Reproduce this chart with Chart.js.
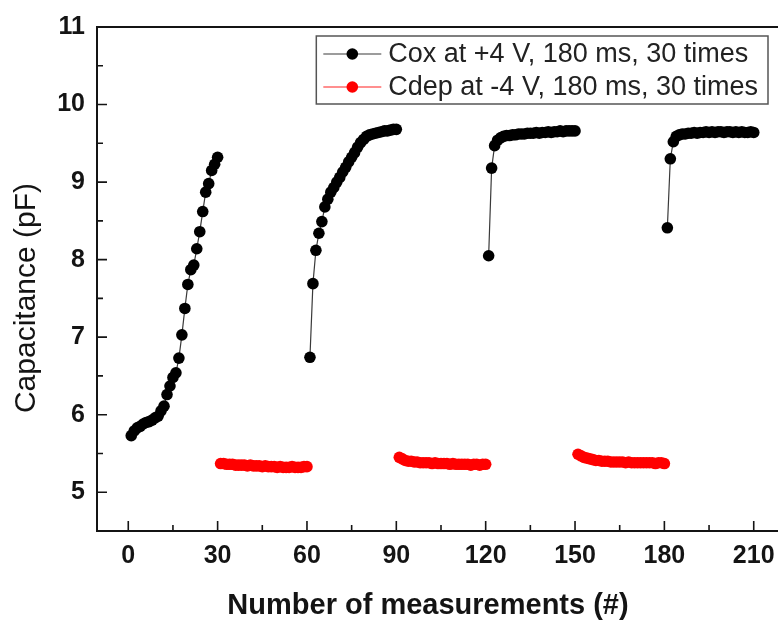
<!DOCTYPE html>
<html>
<head>
<meta charset="utf-8">
<title>Capacitance vs number of measurements</title>
<script src="https://cdn.jsdelivr.net/npm/chart.js@4.4.1/dist/chart.umd.min.js"></script>
<style>
  html, body { margin: 0; padding: 0; background: #fff; overflow: hidden; }
</style>
</head>
<body>
<canvas id="cap-chart" width="800" height="624"></canvas>
<script>
// measurement index where each run starts
const coxStarts = [1, 61, 121, 181];
const cdepStarts = [31, 91, 151];

// Cox at +4 V (pF), 30 readings per run
const coxRun1 = [5.73, 5.79, 5.83, 5.85, 5.88, 5.90, 5.91, 5.93, 5.96, 5.98,
                 6.05, 6.11, 6.26, 6.37, 6.48, 6.54, 6.73, 7.03, 7.37, 7.68,
                 7.87, 7.93, 8.14, 8.36, 8.62, 8.87, 8.98, 9.15, 9.23, 9.32];
const coxRun2 = [6.74, 7.69, 8.12, 8.34, 8.49, 8.68, 8.78, 8.87, 8.93, 9.00,
                 9.06, 9.13, 9.19, 9.26, 9.32, 9.38, 9.45, 9.51, 9.55, 9.59,
                 9.61, 9.62, 9.63, 9.64, 9.65, 9.66, 9.66, 9.67, 9.68, 9.68];
const coxRun3 = [8.05, 9.18, 9.47, 9.54, 9.57, 9.59, 9.60, 9.60, 9.61, 9.61,
                 9.62, 9.62, 9.62, 9.63, 9.63, 9.63, 9.64, 9.63, 9.64, 9.64,
                 9.65, 9.64, 9.65, 9.65, 9.66, 9.65, 9.66, 9.66, 9.66, 9.66];
const coxRun4 = [8.41, 9.30, 9.52, 9.59, 9.61, 9.62, 9.62, 9.63, 9.63, 9.64,
                 9.63, 9.64, 9.64, 9.65, 9.64, 9.65, 9.64, 9.65, 9.65, 9.64,
                 9.65, 9.65, 9.64, 9.65, 9.64, 9.65, 9.64, 9.64, 9.65, 9.64];

// Cdep at -4 V (pF)
const cdepRun1 = [5.37, 5.37, 5.36, 5.36, 5.36, 5.35, 5.35, 5.35, 5.35, 5.34,
                  5.35, 5.34, 5.34, 5.34, 5.33, 5.34, 5.33, 5.33, 5.33, 5.32,
                  5.33, 5.32, 5.32, 5.32, 5.33, 5.32, 5.32, 5.32, 5.33, 5.33];
const cdepRun2 = [5.45, 5.43, 5.41, 5.40, 5.40, 5.39, 5.39, 5.38, 5.38, 5.38,
                  5.38, 5.37, 5.38, 5.37, 5.37, 5.37, 5.37, 5.36, 5.37, 5.36,
                  5.36, 5.36, 5.36, 5.36, 5.35, 5.36, 5.36, 5.35, 5.36, 5.36];
const cdepRun3 = [5.49, 5.47, 5.45, 5.44, 5.43, 5.42, 5.41, 5.41, 5.40, 5.40,
                  5.40, 5.39, 5.39, 5.39, 5.39, 5.39, 5.38, 5.39, 5.38, 5.38,
                  5.38, 5.38, 5.38, 5.38, 5.38, 5.38, 5.37, 5.38, 5.38, 5.37];

const xTicks = [0, 30, 60, 90, 120, 150, 180, 210];
const yTicks = [5, 6, 7, 8, 9, 10, 11];

const FONT = '"Liberation Sans", Arial, Helvetica, sans-serif';
const INK = '#141414';

// join the runs into one series, with a null between runs so the line breaks
function joinRuns(starts, runs) {
  const pts = [];
  runs.forEach((run, r) => {
    if (r > 0) pts.push({ x: starts[r] - 0.5, y: null });
    run.forEach((v, i) => pts.push({ x: starts[r] + i, y: v }));
  });
  return pts;
}

function midpoints(vals) {
  const out = [];
  for (let i = 1; i < vals.length; i++) out.push((vals[i - 1] + vals[i]) / 2);
  return out;
}

// box, inward ticks, axis titles and the legend box
const frameAndTicks = {
  id: 'frameAndTicks',
  afterDraw(chart) {
    const { ctx, chartArea: a, scales: { x, y } } = chart;
    ctx.save();

    ctx.strokeStyle = INK;
    ctx.lineWidth = 2;
    ctx.strokeRect(a.left, a.top, a.right - a.left, a.bottom - a.top);

    ctx.lineWidth = 1.6;
    ctx.beginPath();
    xTicks.forEach(v => {
      const px = x.getPixelForValue(v);
      ctx.moveTo(px, a.bottom); ctx.lineTo(px, a.bottom - 10);
    });
    midpoints(xTicks).forEach(v => {
      const px = x.getPixelForValue(v);
      ctx.moveTo(px, a.bottom); ctx.lineTo(px, a.bottom - 6);
    });
    yTicks.forEach(v => {
      const py = y.getPixelForValue(v);
      ctx.moveTo(a.left, py); ctx.lineTo(a.left + 10, py);
    });
    midpoints([4].concat(yTicks)).forEach(v => {
      if (v < y.min) return;
      const py = y.getPixelForValue(v);
      ctx.moveTo(a.left, py); ctx.lineTo(a.left + 6, py);
    });
    ctx.stroke();

    // axis titles
    ctx.fillStyle = INK;
    ctx.textAlign = 'center';
    ctx.textBaseline = 'middle';
    ctx.font = 'bold 29px ' + FONT;
    ctx.fillText('Number of measurements (#)', (a.left + a.right) / 2 - 13, 606);

    ctx.save();
    ctx.translate(27, (a.top + a.bottom) / 2 + 19);
    ctx.rotate(-Math.PI / 2);
    ctx.font = '30px ' + FONT;
    ctx.fillText('Capacitance (pF)', 0, 0);
    ctx.restore();

    // legend
    const sets = chart.data.datasets;
    ctx.font = '27px ' + FONT;
    const textW = Math.max(...sets.map(d => ctx.measureText(d.label).width));
    const rowH = 33, sample = 58;
    const boxR = a.right - 17, boxT = a.top + 9;
    const boxW = 7 + sample + 7 + textW + 10;
    const boxL = boxR - boxW;
    const boxH = rowH * sets.length + 2;
    ctx.fillStyle = '#fff';
    ctx.fillRect(boxL, boxT, boxW, boxH);
    ctx.strokeStyle = '#555';
    ctx.lineWidth = 1.5;
    ctx.strokeRect(boxL, boxT, boxW, boxH);

    ctx.textAlign = 'left';
    sets.forEach((d, i) => {
      const cy = boxT + 18 + i * rowH;
      const x0 = boxL + 7;
      ctx.strokeStyle = d.borderColor;
      ctx.lineWidth = 1.2;
      ctx.beginPath();
      ctx.moveTo(x0, cy); ctx.lineTo(x0 + sample, cy);
      ctx.stroke();
      ctx.fillStyle = d.pointBackgroundColor;
      ctx.beginPath();
      ctx.arc(x0 + sample / 2, cy, 5.8, 0, Math.PI * 2);
      ctx.fill();
      ctx.fillStyle = '#222';
      ctx.fillText(d.label, x0 + sample + 7, cy + 1);
    });

    ctx.restore();
  }
};

new Chart(document.getElementById('cap-chart'), {
  type: 'line',
  data: {
    datasets: [
      {
        label: 'Cox at +4 V, 180 ms, 30 times',
        data: joinRuns(coxStarts, [coxRun1, coxRun2, coxRun3, coxRun4]),
        borderColor: '#3a3a3a',
        borderWidth: 1.2,
        pointBackgroundColor: '#000',
        pointBorderColor: '#000',
        pointRadius: 5.8,
        pointBorderWidth: 0,
        spanGaps: false
      },
      {
        label: 'Cdep at -4 V, 180 ms, 30 times',
        data: joinRuns(cdepStarts, [cdepRun1, cdepRun2, cdepRun3]),
        borderColor: '#ff2020',
        borderWidth: 1.2,
        pointBackgroundColor: '#ff0000',
        pointBorderColor: '#ff0000',
        pointRadius: 5.8,
        pointBorderWidth: 0,
        spanGaps: false
      }
    ]
  },
  options: {
    responsive: false,
    animation: false,
    layout: { padding: { top: 24, right: 15, bottom: 0, left: 0 } },
    plugins: { legend: { display: false }, tooltip: { enabled: false } },
    scales: {
      x: {
        type: 'linear',
        min: -10.5,
        max: 220.5,
        afterBuildTicks: s => { s.ticks = xTicks.map(v => ({ value: v })); },
        afterFit: s => { s.height = 93; },
        grid: { display: false, drawTicks: false },
        border: { display: false },
        ticks: {
          padding: 10,
          color: INK,
          font: { family: FONT, size: 25, weight: 'bold' }
        }
      },
      y: {
        type: 'linear',
        min: 4.5,
        max: 11,
        afterBuildTicks: s => { s.ticks = yTicks.map(v => ({ value: v })); },
        afterFit: s => { s.width = 97; },
        grid: { display: false, drawTicks: false },
        border: { display: false },
        ticks: {
          padding: 12,
          color: INK,
          font: { family: FONT, size: 25, weight: 'bold' }
        }
      }
    }
  },
  plugins: [frameAndTicks]
});
</script>
</body>
</html>
